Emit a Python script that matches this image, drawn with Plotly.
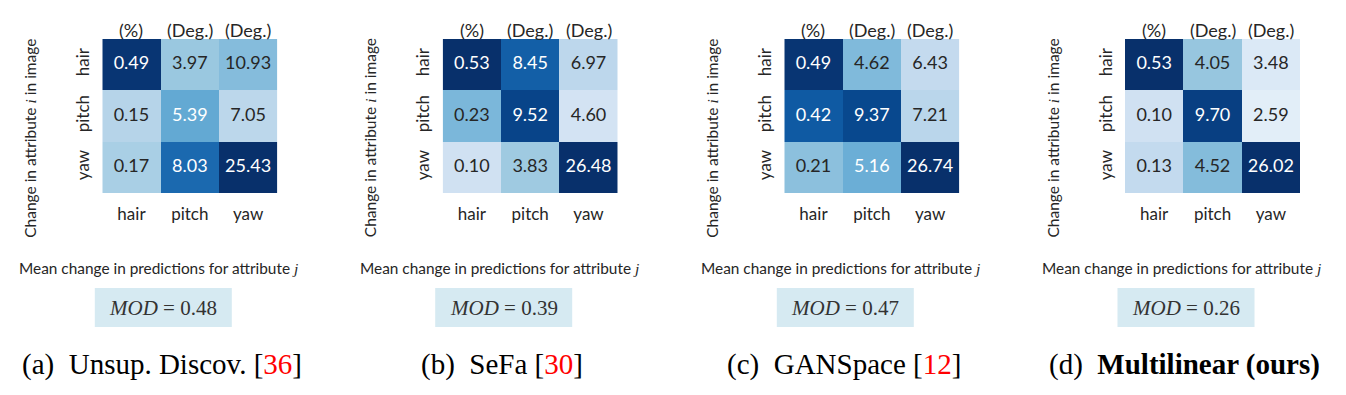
import re
import plotly.graph_objects as go
import plotly.colors as pc

# ---------------- data ----------------
categories = ["hair", "pitch", "yaw"]
units = ["(%)", "(Deg.)", "(Deg.)"]

unsup_discov = [[0.49, 3.97, 10.93],
                [0.15, 5.39, 7.05],
                [0.17, 8.03, 25.43]]
sefa = [[0.53, 8.45, 6.97],
        [0.23, 9.52, 4.60],
        [0.10, 3.83, 26.48]]
ganspace = [[0.49, 4.62, 6.43],
            [0.42, 9.37, 7.21],
            [0.21, 5.16, 26.74]]
multilinear = [[0.53, 4.05, 3.48],
               [0.10, 9.70, 2.59],
               [0.13, 4.52, 26.02]]

mod_scores = [0.48, 0.39, 0.47, 0.26]
caption_tags = ["(a)", "(b)", "(c)", "(d)"]
caption_names = ["Unsup. Discov.", "SeFa", "GANSpace", "Multilinear (ours)"]
caption_refs = ["36", "30", "12", ""]

# per-column colour range (style)
col_vmax = [0.5, 10.3, 25.0]

panels = [unsup_discov, sefa, ganspace, multilinear]

# ---------------- style / layout ----------------
W, H = 1346, 395
SANS = "Lato"
SERIF = "Liberation Serif"
DARK = "#262626"
blues = pc.sequential.Blues
n = len(blues)
blues_scale = [[i / (n - 1), c] for i, c in enumerate(blues)]

lefts = [102.3, 442.7, 784.3, 1125.0]
hm_w = 175.0
top_px, bot_px = 39.0, 193.3


def px_x(x):
    return x / W


def px_y(y):
    return 1 - y / H


def text_color(t):
    c = pc.sample_colorscale(blues_scale, [t])[0]
    r, g, b = [float(s) for s in re.findall(r"[\d.]+", c)[:3]]

    def lin(u):
        u /= 255
        return u / 12.92 if u <= 0.03928 else ((u + 0.055) / 1.055) ** 2.4

    lum = 0.2126 * lin(r) + 0.7152 * lin(g) + 0.0722 * lin(b)
    return "white" if lum < 0.408 else DARK


fig = go.Figure()
annotations = []
shapes = []
layout_axes = {}

for p, mat in enumerate(panels):
    k = "" if p == 0 else str(p + 1)
    xa, ya = "x" + k, "y" + k
    # colour of each cell is scaled per column (units differ per column)
    z_col = [[min(1.0, mat[i][j] / col_vmax[j]) for j in range(3)] for i in range(3)]
    fig.add_trace(go.Heatmap(
        x=categories, y=categories, z=z_col, customdata=mat,
        zmin=0, zmax=1, colorscale=blues_scale,
        showscale=False, hoverinfo="skip", xaxis=xa, yaxis=ya))
    tx, ty, tt, tc = [], [], [], []
    for i, rcat in enumerate(categories):
        for j, ccat in enumerate(categories):
            tx.append(ccat)
            ty.append(rcat)
            tt.append(f"{mat[i][j]:.2f}")
            tc.append(text_color(z_col[i][j]))
    fig.add_trace(go.Scatter(
        x=tx, y=ty, text=tt, mode="text", hoverinfo="skip",
        textfont=dict(family=SANS, size=18, color=tc),
        cliponaxis=False, showlegend=False, xaxis=xa, yaxis=ya))

    L = lefts[p]
    layout_axes["xaxis" + k] = dict(
        domain=[px_x(L), px_x(L + hm_w)], anchor=ya, type="category",
        categoryorder="array", categoryarray=categories, range=[-0.5, 2.5],
        showgrid=False, zeroline=False, showline=False, ticks="",
        ticklabelstandoff=9, tickfont=dict(family=SANS, size=17, color=DARK))
    layout_axes["yaxis" + k] = dict(
        domain=[px_y(bot_px), px_y(top_px)], anchor=xa, type="category",
        categoryorder="array", categoryarray=categories, range=[2.5, -0.5],
        showgrid=False, zeroline=False, showline=False, ticks="",
        tickangle=-90, ticklabelstandoff=9,
        tickfont=dict(family=SANS, size=17, color=DARK))

    # unit labels above columns
    for j, cat in enumerate(categories):
        annotations.append(dict(
            x=cat, y=px_y(30), xref=xa, yref="paper", text=units[j],
            showarrow=False, xanchor="center", yanchor="middle",
            font=dict(family=SANS, size=18, color=DARK)))

    cx = L + hm_w / 2
    # y title
    annotations.append(dict(
        x=px_x(L - 72.5), y=px_y(138), xref="paper", yref="paper",
        text="Change in attribute <span style=\"font-family:'Liberation Serif'\"><i>i</i></span> in image",
        textangle=-90, showarrow=False, xanchor="center", yanchor="middle",
        font=dict(family=SANS, size=15.5, color=DARK)))
    # x title
    annotations.append(dict(
        x=px_x(cx - 31), y=px_y(268), xref="paper", yref="paper",
        text="Mean change in predictions for attribute <span style=\"font-family:'Liberation Serif'\"><i>j</i></span>",
        showarrow=False, xanchor="center", yanchor="middle",
        font=dict(family=SANS, size=15.4, color=DARK)))
    # MOD box
    bx = cx - 26.5
    shapes.append(dict(
        type="rect", xref="paper", yref="paper",
        x0=px_x(bx - 68.5), x1=px_x(bx + 68.5), y0=px_y(327), y1=px_y(288),
        fillcolor="#d6eaf2", line=dict(width=0), layer="below"))
    annotations.append(dict(
        x=px_x(bx), y=px_y(307.5), xref="paper", yref="paper",
        text=f"<i>MOD</i> = {mod_scores[p]:.2f}",
        showarrow=False, xanchor="center", yanchor="middle",
        font=dict(family=SERIF, size=21, color="#333333")))
    # caption
    name = caption_names[p]
    if p == 3:
        name = f"<b>{name}</b>"
    ref = f" [<span style=\"color:#ff0000\">{caption_refs[p]}</span>]" if caption_refs[p] else ""
    annotations.append(dict(
        x=px_x(cx - 28), y=px_y(364), xref="paper", yref="paper",
        text=f"{caption_tags[p]}\u2002{name}{ref}",
        showarrow=False, xanchor="center", yanchor="middle",
        font=dict(family=SERIF, size=29, color="black")))

fig.update_layout(
    width=W, height=H, margin=dict(l=0, r=0, t=0, b=0),
    paper_bgcolor="white", plot_bgcolor="white", showlegend=False,
    annotations=annotations, shapes=shapes, **layout_axes)

fig.write_html(
    "out.html",
    config={"displayModeBar": False},
    post_script="document.body.style.margin='0';document.body.style.overflow='hidden';")
